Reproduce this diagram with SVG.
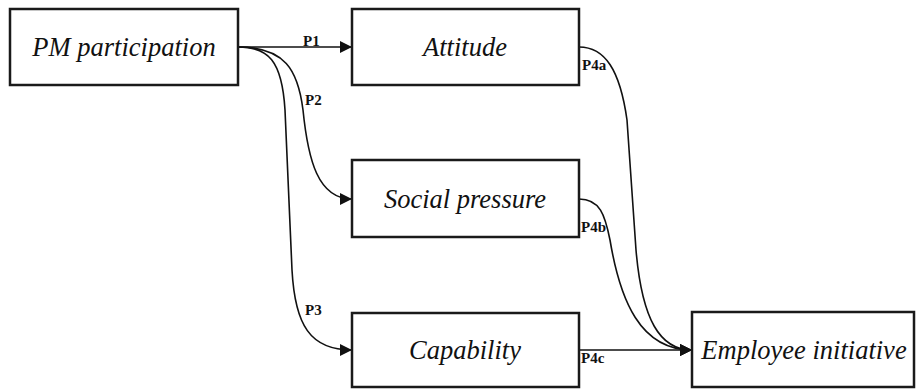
<svg xmlns="http://www.w3.org/2000/svg" width="916" height="389" viewBox="0 0 916 389">
  <style>
    .box { fill: #ffffff; stroke: #1a1a1a; stroke-width: 2.5; }
    .edge { fill: none; stroke: #111; stroke-width: 1.6; }
  </style>
  <defs>
    <marker id="arrow" markerUnits="userSpaceOnUse" markerWidth="12" markerHeight="12" refX="12" refY="6" orient="auto">
      <path d="M0,0 L12,6 L0,12 Z" fill="#111"/>
    </marker>
  </defs>
  <rect width="916" height="389" fill="#ffffff"/>
  <g id="connectors">
    <path class="edge" d="M238,47 L352,47" marker-end="url(#arrow)"/>
    <path class="edge" d="M238,47 C285,47 298,70 303,110 C308,160 318,199 352,199" marker-end="url(#arrow)"/>
    <path class="edge" d="M238,47 C268,47 282,60 285,110 L292,270 C295,325 310,350 352,350" marker-end="url(#arrow)"/>
    <path class="edge" d="M579,47 C605,47 620,70 627,120 L636,250 C642,320 660,350 692,350" marker-end="url(#arrow)"/>
    <path class="edge" d="M579,199 C600,199 605,215 610,240 C620,300 640,350 692,350" marker-end="url(#arrow)"/>
    <path class="edge" d="M579,350 L692,350" marker-end="url(#arrow)"/>
    <g font-family="Liberation Serif" font-weight="bold" font-size="15" fill="#111">
      <text x="303" y="46">P1</text>
      <text x="305" y="105">P2</text>
      <text x="305" y="315">P3</text>
      <text x="582" y="70">P4a</text>
      <text x="581" y="232">P4b</text>
      <text x="581" y="363">P4c</text>
    </g>
  </g>
  <g font-family="Liberation Serif" font-style="italic" font-size="26.5" fill="#111" text-anchor="middle">
    <g id="pm-participation">
      <rect class="box" x="10" y="9" width="228" height="76"/>
      <text x="124" y="56">PM participation</text>
    </g>
    <g id="attitude">
      <rect class="box" x="352" y="9" width="227" height="76"/>
      <text x="465" y="56">Attitude</text>
    </g>
    <g id="social-pressure">
      <rect class="box" x="352" y="160" width="227" height="77"/>
      <text x="465" y="208">Social pressure</text>
    </g>
    <g id="capability">
      <rect class="box" x="352" y="313" width="227" height="74"/>
      <text x="465" y="359">Capability</text>
    </g>
    <g id="employee-initiative">
      <rect class="box" x="692" y="312" width="222" height="75"/>
      <text x="804" y="359">Employee initiative</text>
    </g>
  </g>
</svg>
